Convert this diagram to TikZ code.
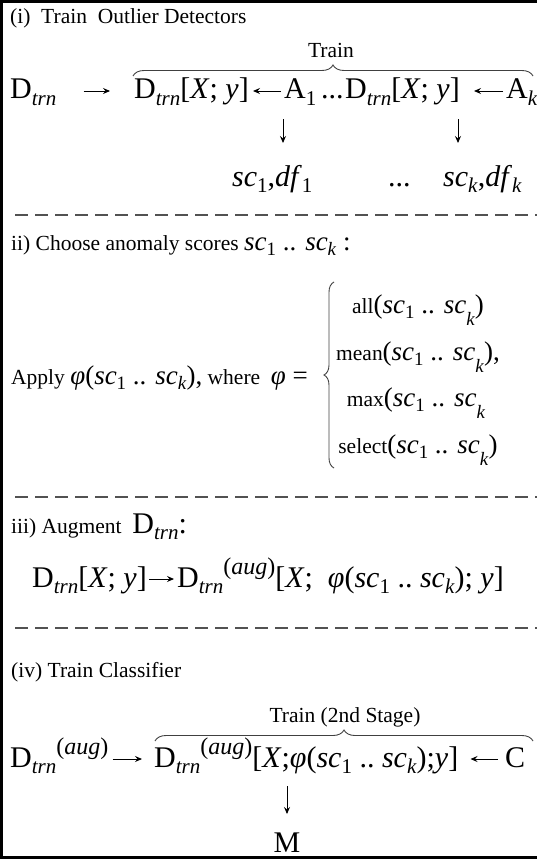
\documentclass[tikz,border=0pt]{standalone}
\usepackage{fontspec}
\setmainfont{Liberation Serif}
\usetikzlibrary{arrows.meta,decorations.pathreplacing}
\newcommand\smf{\fontsize{21.5}{25}\selectfont}
\newcommand\bgf{\fontsize{30}{36}\selectfont}
\newcommand\mdf{\fontsize{27}{32}\selectfont}
\newcommand\sbs[1]{\raisebox{-0.22em}{\scalebox{0.7}{#1}}}
\newcommand\sbl[1]{\raisebox{-0.45em}{\scalebox{0.7}{#1}}}
\newcommand\sps[1]{\raisebox{0.42em}{\scalebox{0.8}{#1}}}
\newcommand\Dt{D\sbs{\textit{trn}}}
\newcommand\Da{D\sbs{\textit{trn}}\sps{(\textit{aug})}}
\newcommand\sco{\textit{sc}\sbs{1}}
\newcommand\sck{\textit{sc}\sbs{\textit{k}}}
\newcommand\sckl{\textit{sc}\sbl{\textit{k}}}
\newcommand\phig{\textit{φ}}
\tikzset{
  txt/.style={anchor=base west, inner sep=0pt},
  ctxt/.style={anchor=base, inner sep=0pt},
  arr/.style={-{Stealth[length=7pt,width=6pt,inset=2.5pt]}, line width=0.9pt},
  dashline/.style={line width=1.7pt, draw=black!68, dash pattern=on 13pt off 7pt},
  brc/.style={decorate, decoration={brace, amplitude=11pt}, line width=0.9pt, draw=black!75},
  brcl/.style={decorate, decoration={brace, amplitude=10pt}, line width=0.9pt, draw=black!75},
  frame/.style={line width=3pt}
}
\begin{document}
\begin{tikzpicture}[x=1pt,y=-1pt]
\useasboundingbox (0,0) rectangle (537,859);
% frame
\draw[frame] (1.5,0) -- (1.5,859);
\draw[frame] (0,1.5) -- (537,1.5);
\draw[frame] (0,857.5) -- (537,857.5);

% ---- (i)
\node[txt] (h1) at (10,24) {\smf (i)\ \ Train\ \ Outlier Detectors};
\node[ctxt] (train1) at (331,57) {\smf Train};
\node[txt] (D0) at (10,99) {\bgf\Dt};
\node[txt] (D1) at (134,99) {\bgf\Dt[\textit{X}; \textit{y}]};
\node[txt] (A1) at (284,99) {\bgf A\sbs{1}};
\node[txt] (dots1) at (321,99) {\bgf ...};
\node[txt] (D2) at (345,99) {\bgf\Dt[\textit{X}; \textit{y}]};
\node[txt] (Ak) at (506,99) {\bgf A\sbs{\textit{k}}};
\draw[brc] (133,76) -- (533,76);
\draw[arr] ([xshift=27pt,yshift=8pt]D0.base east) -- ([xshift=-24pt,yshift=8pt]D1.base west);
\draw[arr] ([xshift=-3pt,yshift=8pt]A1.base west) -- ([xshift=4pt,yshift=8pt]D1.base east);
\draw[arr] ([xshift=-3pt,yshift=8pt]Ak.base west) -- ([xshift=14pt,yshift=8pt]D2.base east);

\node[txt] (sc1) at (232,186) {\bgf\sco,\textit{df}\sbs{1}};
\node[txt] (dots2) at (388,186) {\bgf ...};
\node[txt] (sck) at (443,186) {\bgf\sck,\textit{df}\sbs{\textit{k}}};
\coordinate (v1) at (283,119);
\coordinate (v2) at (458,119);
\draw[arr] (v1) -- (v1 |- 0,143);
\draw[arr] (v2) -- (v2 |- 0,143);

\coordinate (L1a) at (15,215); \coordinate (L1b) at (537,215);
\draw[dashline] (L1a) -- (L1b);

% ---- ii)
\node[txt] (h2) at (11,250) {\smf ii) Choose anomaly scores {\mdf\sco\ .. \sck\ :}};
\node[txt] (ap) at (11,384) {\smf Apply {\mdf\phig(\sco\ .. \sck),} where\ \ {\mdf\phig\ =}};
\draw[brcl] (334,468) -- (334,282);
\node[ctxt] (c1) at (418,313) {\smf all{\mdf(\sco\ .. \sckl)}};
\node[ctxt] (c2) at (418,360) {\smf mean{\mdf(\sco\ .. \sckl),}};
\node[ctxt] (c3) at (416,406) {\smf max{\mdf(\sco\ .. \sckl}};
\node[ctxt] (c4) at (418,453) {\smf select{\mdf(\sco\ .. \sckl)}};

\coordinate (L2a) at (15,497); \coordinate (L2b) at (537,497);
\draw[dashline] (L2a) -- (L2b);

% ---- iii)
\node[txt] (h3) at (11,533) {\smf iii) Augment\ \ {\bgf\Dt:}};
\node[txt] (e1) at (32,587) {\bgf\Dt[\textit{X}; \textit{y}]};
\node[txt] (e2) at (177,587) {\bgf\Da[\textit{X};\ \ \phig(\sco\ ..\ \sck); \textit{y}]};
\draw[arr] ([xshift=2pt,yshift=8pt]e1.base east) -- ([xshift=-3pt,yshift=8pt]e2.base west);

\coordinate (L3a) at (15,628); \coordinate (L3b) at (537,628);
\draw[dashline] (L3a) -- (L3b);

% ---- (iv)
\node[txt] (h4) at (11,677) {\smf (iv) Train Classifier};
\node[ctxt] (train2) at (345,722) {\smf Train (2nd Stage)};
\node[txt] (F0) at (10,767) {\bgf\Da};
\node[txt] (F1) at (154,767) {\bgf\Da[\textit{X};\phig(\sco\ ..\ \sck);\textit{y}]};
\node[txt] (C) at (505,767) {\bgf C};
\draw[arr] ([xshift=4pt,yshift=8pt]F0.base east) -- ([xshift=-12pt,yshift=8pt]F1.base west);
\draw[arr] ([xshift=-7pt,yshift=8pt]C.base west) -- ([xshift=12pt,yshift=8pt]F1.base east);
\draw[brc] (155,741) -- (533,741);
\node[ctxt] (M) at (287,852) {\bgf M};
\coordinate (v3) at (287,786);
\draw[arr] (v3) -- (v3 |- 0,814);
\end{tikzpicture}
\end{document}
